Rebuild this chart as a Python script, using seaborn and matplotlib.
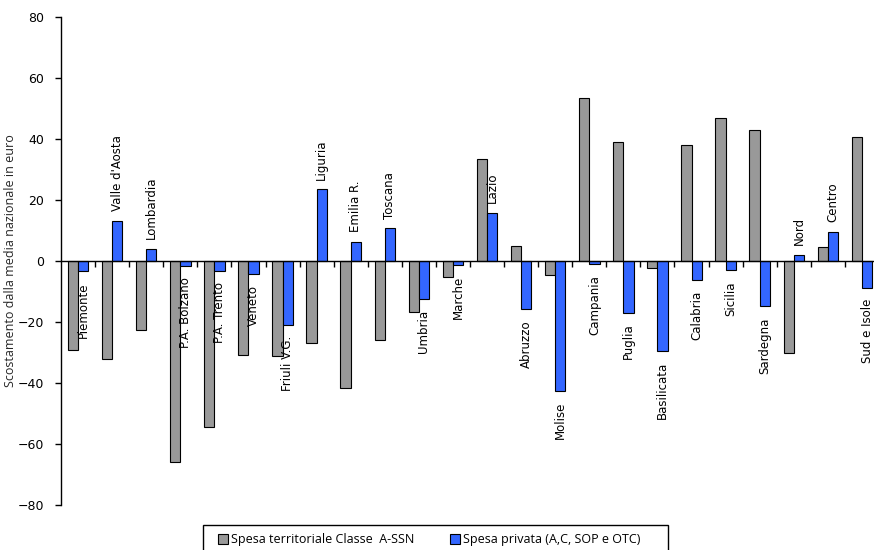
import numpy as np
import pandas as pd
import matplotlib.pyplot as plt
import seaborn as sns
from matplotlib.patches import Rectangle

# ==========================
# DATA
# ==========================

regioni = [
    "Piemonte", "Valle d'Aosta", "Lombardia", "P.A. Bolzano", "P.A. Trento",
    "Veneto", "Friuli V.G.", "Liguria", "Emilia R.", "Toscana", "Umbria",
    "Marche", "Lazio", "Abruzzo", "Molise", "Campania", "Puglia",
    "Basilicata", "Calabria", "Sicilia", "Sardegna", "Nord", "Centro",
    "Sud e Isole"
]

spesa_ssn = [
    -29.2, -32.1, -22.7, -66.0, -54.5, -30.9, -31.3, -26.8, -41.8, -26.0,
    -16.6, -5.1, 33.6, 4.9, -4.7, 53.3, 39.1, -2.2, 37.9, 46.8, 43.1,
    -30.3, 4.5, 40.6
]

spesa_privata = [
    -3.4, 13.2, 4.0, -1.5, -3.4, -4.2, -21.0, 23.5, 6.2, 10.7, -12.5,
    -1.3, 15.9, -15.7, -42.6, -1.1, -16.9, -29.5, -6.2, -3.0, -14.8,
    1.9, 9.6, -8.7
]

serie = [
    "Spesa territoriale Classe  A-SSN",
    "Spesa privata (A,C, SOP e OTC)"
]

colori = ["#999999", "#3366FF"]

y_ticks = [-80, -60, -40, -20, 0, 20, 40, 60, 80]

df = pd.DataFrame({
    "Regione": regioni + regioni,
    "Valore": spesa_ssn + spesa_privata,
    "Serie": [serie[0]] * len(regioni) + [serie[1]] * len(regioni)
})

# ==========================
# PLOT
# ==========================

sns.set_style("ticks", {
    "axes.edgecolor": "black",
    "text.color": "black",
    "xtick.color": "black",
    "ytick.color": "black"
})
plt.rcParams["font.family"] = ["DejaVu Sans"]

fig = plt.figure(figsize=(8.74, 5.5), dpi=100)
ax = fig.add_axes([61 / 874, 1 - 505 / 550, 818 / 874, 488 / 550])

sns.barplot(
    data=df,
    x="Regione",
    y="Valore",
    hue="Serie",
    palette=colori,
    saturation=1,
    edgecolor="black",
    linewidth=0.8,
    width=0.6,
    ax=ax
)

# data labels next to the private-spending bars
for i, (nome, v) in enumerate(zip(regioni, spesa_privata)):
    ax.annotate(
        nome,
        (i + 0.15, v),
        xytext=(0, 7 if v > 0 else -8),
        textcoords="offset points",
        rotation=90,
        ha="center",
        va="bottom" if v > 0 else "top",
        fontsize=8.5
    )

ax.set_xlim(-0.5, len(regioni) - 0.5)
ax.set_ylim(-80, 80)
ax.set_yticks(y_ticks)
ax.set_xticks(np.arange(0.5, len(regioni) - 1, 1))
ax.set_xticklabels([])
ax.set_xlabel("")
ax.set_ylabel(
    "Scostamento dalla media nazionale in euro",
    fontsize=9,
    family=["Open Sans"]
)
ax.yaxis.set_label_coords(-44 / 818, 0.5)

ax.spines["top"].set_visible(False)
ax.spines["right"].set_visible(False)
ax.spines["bottom"].set_position(("data", 0))
ax.spines["left"].set_linewidth(1)
ax.spines["bottom"].set_linewidth(1)
ax.tick_params(axis="y", length=4, width=1, labelsize=9, pad=8)
ax.tick_params(axis="x", length=4, width=1)

handles, labels = ax.get_legend_handles_labels()
ax.legend_.remove()

leg = fig.legend(
    handles,
    labels,
    loc="upper left",
    bbox_to_anchor=(210 / 874, 1 - 526 / 550),
    ncol=2,
    frameon=False,
    prop={"family": "Open Sans", "size": 9},
    handlelength=0.8,
    handleheight=0.8,
    handletextpad=0.3,
    columnspacing=2.8,
    borderpad=0.6,
    borderaxespad=0
)

# legend frame, running off the bottom edge as in the original
fig.patches.append(Rectangle(
    (203 / 874, -0.02),
    465 / 874,
    0.02 + 25 / 550,
    transform=fig.transFigure,
    fill=False,
    edgecolor="black",
    linewidth=1
))

plt.savefig("out.png", dpi=100)
